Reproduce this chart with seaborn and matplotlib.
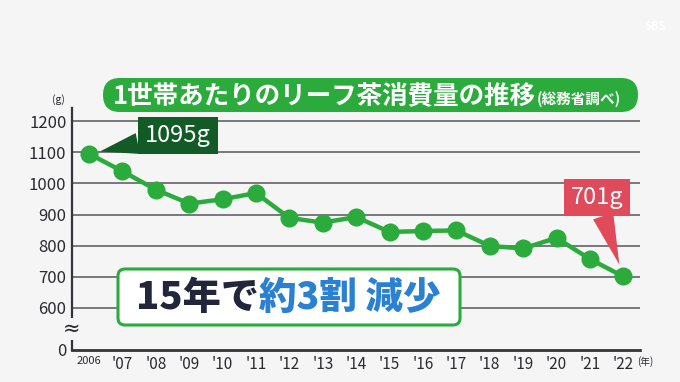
import pandas as pd
import seaborn as sns
import matplotlib.pyplot as plt
from matplotlib.patches import FancyBboxPatch

# --- data ---
years = list(range(2006, 2023))
consumption = [1095, 1039, 980, 935, 949, 969, 889, 874, 892,
               844, 847, 849, 799, 791, 825, 757, 701]
year_labels = ["2006", "'07", "'08", "'09", "'10", "'11", "'12", "'13", "'14",
               "'15", "'16", "'17", "'18", "'19", "'20", "'21", "'22"]
y_ticks = [600, 700, 800, 900, 1000, 1100, 1200]
title = "1世帯あたりのリーフ茶消費量の推移"
source = "(総務省調べ)"

BG = "#f5f5f6"
GREEN = "#2aab3c"
DARK_GREEN = "#135b26"
RED = "#e04b5c"
BLUE = "#2a80d2"
NAVY = "#22263a"
INK = "#2a2a30"

sns.set_theme(style="white")
plt.rcParams['font.family'] = ['Noto Sans CJK JP', 'DejaVu Sans']

df = pd.DataFrame({"year": years, "g": consumption})

fig = plt.figure(figsize=(6.8, 3.82), dpi=100, facecolor=BG)
ax = fig.add_axes([72 / 680, 32 / 382, 568 / 680, 242 / 382])
ax.set_facecolor(BG)

# broken axis: bottom of the axes stands for 0
y_floor = 465
ax.set_ylim(y_floor, 1242)
ax.set_xlim(2005.49, 2022.5)

for v in y_ticks:
    ax.axhline(v, color="#55555c", lw=1.1, zorder=1)

sns.lineplot(data=df, x="year", y="g", ax=ax, color=GREEN, lw=3.2,
             marker="o", markersize=13, markeredgewidth=0, zorder=3)

ax.set_yticks([y_floor] + y_ticks)
ax.set_yticklabels(["0"] + [str(v) for v in y_ticks])
ax.set_xticks(years)
ax.set_xticklabels(year_labels)
ax.tick_params(axis="y", length=0, pad=4, labelsize=12, labelcolor=INK)
ax.tick_params(axis="x", length=0, pad=4, labelsize=11, labelcolor=INK)
ax.get_xticklabels()[0].set_fontsize(8)
ax.set_xlabel("")
ax.set_ylabel("")

for s in ["top", "right"]:
    ax.spines[s].set_visible(False)
ax.spines["left"].set_color("#333338")
ax.spines["left"].set_linewidth(1.6)
ax.spines["bottom"].set_color("#333338")
ax.spines["bottom"].set_linewidth(2.0)

# break mark, units
fig.text(72 / 680, 1 - 329 / 382, "≈", fontsize=15, color=INK, ha="center",
         va="center", family=['DejaVu Sans'],
         bbox=dict(fc=BG, ec="none", pad=0.5))
fig.text(58 / 680, 1 - 100 / 382, "(g)", fontsize=7.5, color=INK,
         ha="center", va="center")
fig.text(637 / 680, 1 - 362 / 382, "(年)", fontsize=7, color=INK,
         ha="left", va="center")

inch = fig.dpi_scale_trans

# title banner
banner = FancyBboxPatch((1.03 + 0.17, (382 - 95) / 100), 5.35 - 0.34, 0.0,
                        boxstyle="round,pad=0.17,rounding_size=0.17",
                        fc=GREEN, ec="none", transform=inch)
fig.patches.append(banner)
fig.text(113 / 680, 1 - 96 / 382, title, fontsize=18.4, color="white",
         weight="bold", ha="left", va="center")
fig.text(537 / 680, 1 - 99 / 382, source, fontsize=10.5, color="white",
         weight="bold", ha="left", va="center")

# summary box
fig.patches.append(FancyBboxPatch((1.18, (382 - 325) / 100), 3.42, 0.56,
                                  boxstyle="round,pad=0,rounding_size=0.07",
                                  fc="white", ec=GREEN, lw=2.2, transform=inch))
fig.text(136 / 680, 1 - 298 / 382, "15年で", fontsize=27.5, color=NAVY,
         weight="heavy", ha="left", va="center")
fig.text(259 / 680, 1 - 298 / 382, "約3割 減少", fontsize=27, color=BLUE,
         weight="heavy", ha="left", va="center")

# callouts
ax.annotate("1095g", xy=(years[0], consumption[0]), xytext=(2008.66, 1155),
            fontsize=17, color="white", ha="center", va="center", zorder=5,
            bbox=dict(boxstyle="square,pad=0.3", fc=DARK_GREEN, ec="none"),
            arrowprops=dict(arrowstyle="wedge,tail_width=0.9", fc=DARK_GREEN,
                            ec="none", shrinkA=0, shrinkB=8))
ax.annotate("701g", xy=(years[-1], consumption[-1]), xytext=(2021.21, 955),
            fontsize=17, color="white", ha="center", va="center", zorder=5,
            bbox=dict(boxstyle="square,pad=0.3", fc=RED, ec="none"),
            arrowprops=dict(arrowstyle="wedge,tail_width=0.9", fc=RED,
                            ec="none", shrinkA=0, shrinkB=9))

fig.text(655 / 680, 1 - 27 / 382, "SBS", fontsize=8, color="white",
         weight="bold", ha="center", va="center", alpha=0.9)

fig.savefig("out.png", dpi=100, facecolor=BG)
